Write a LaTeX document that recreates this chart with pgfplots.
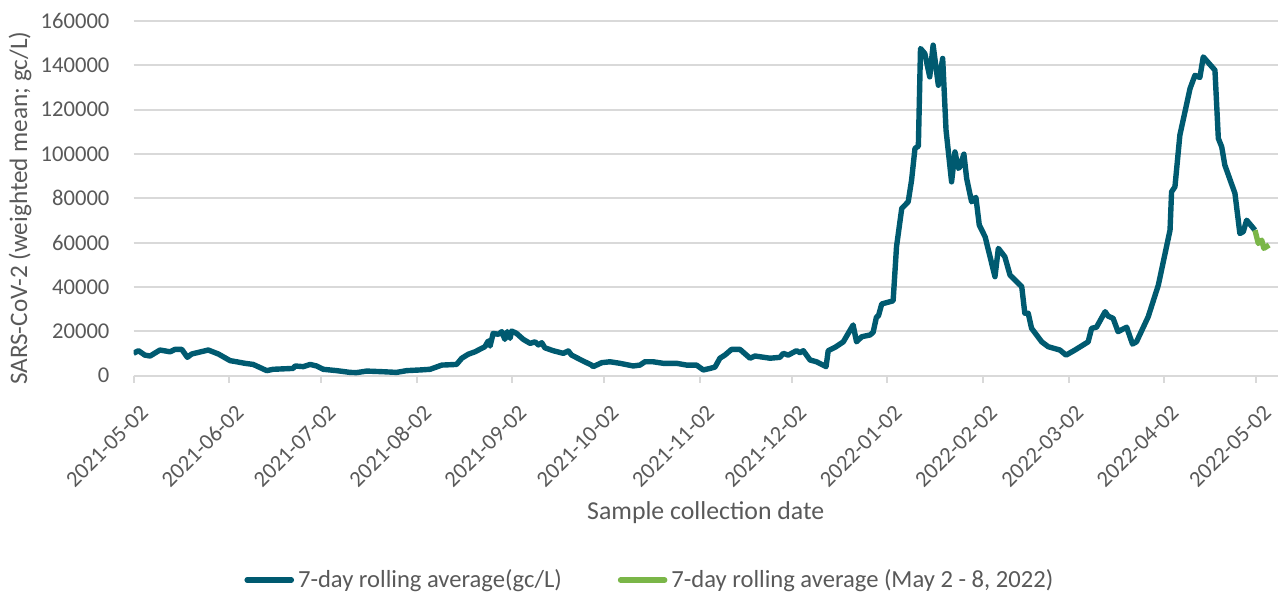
\documentclass[border=0pt]{standalone}
\usepackage{pgfplots}
\pgfplotsset{compat=1.18}
\usepackage{fontspec}
\setmainfont{Carlito}
\definecolor{dteal}{HTML}{005A70}
\definecolor{lgreen}{HTML}{7AB648}
\definecolor{txt}{HTML}{595959}
\definecolor{gridc}{HTML}{D9D9D9}
\pgfplotstableread{
day val
0 10000
1.6 11200
3.7 9200
5.4 8800
8.6 11500
11.9 10700
13.5 11800
15.7 11800
17.5 8200
18.9 9700
24.3 11500
27.6 9700
31.4 6700
33.5 6200
36.2 5500
38.9 5000
43.3 2200
45.4 2800
51.9 3200
52.5 4300
55.2 4000
57.4 5000
59.5 4300
61.7 2800
66.0 2200
70.4 1400
72.5 1300
75.8 2000
81.2 1700
85.5 1400
88.8 2200
93.1 2500
96.4 2800
100.2 4700
105.0 5000
106.7 7800
108.8 9600
111.0 10700
114.2 13000
115.3 15600
115.9 13300
116.9 19000
118.6 18600
119.7 19800
120.7 16300
121.5 19800
122.4 16800
122.9 20100
124.5 19000
126.7 16300
128.9 14500
130.5 15200
131.6 13800
132.7 14800
133.7 12500
136.4 11200
139.7 10000
141.3 11100
142.4 9200
146.2 6500
148.9 4700
149.4 4000
152.2 5800
154.9 6200
158.1 5500
162.4 4300
164.6 4700
166.2 6200
168.9 6200
172.2 5500
176.5 5500
179.8 4700
183.0 4700
185.2 2500
187.4 3200
189.0 3800
190.6 7800
192.2 9200
194.4 11800
197.1 11800
200.4 7800
202.0 8800
206.9 7800
210.1 8200
211.2 10000
212.8 9200
215.5 11200
216.6 10300
217.7 11200
219.9 7000
222.0 6200
225.1 4000
225.8 11200
228.0 12700
230.7 15200
233.9 22800
235.0 15200
236.7 17500
239.4 18300
240.4 19500
241.5 26500
242.1 26800
243.2 32300
246.9 33700
248.0 58100
249.7 75400
251.8 78400
252.9 88200
254.0 102500
255.1 103500
255.8 147600
257.2 145300
258.8 134800
259.9 149100
261.6 131000
263.0 143100
264.1 110700
265.9 87400
267.0 100900
268.1 93500
268.6 94200
269.9 99900
270.8 88900
272.4 78400
273.8 80400
274.9 67900
276.8 62600
280.0 44600
281.1 57400
283.2 53600
284.9 45300
288.7 40100
289.7 28100
290.8 28100
291.9 21300
295.2 15200
297.3 13000
301.1 11500
303.1 9200
306.0 11500
310.3 15200
311.4 21300
313.0 21800
315.8 28800
316.8 26800
318.4 25800
320.0 19800
322.8 21800
324.7 14200
326.0 15200
329.8 26500
333.1 40800
336.9 65600
337.4 82900
338.5 85200
340.1 108500
343.4 129500
345.0 135500
346.6 134500
347.7 143800
351.5 137800
352.6 107000
353.7 103200
354.7 95000
358.0 82200
359.6 64100
360.7 64900
361.8 70100
364.5 65600
}\darkdata
\pgfplotstableread{
day val
364.5 65600
365.6 59600
366.7 61100
367.4 57400
369.1 58900
}\greendata
\begin{document}
\begin{tikzpicture}
\useasboundingbox (0,0) rectangle (639pt,297.5pt);
\begin{axis}[
  at={(66.75pt,109.75pt)}, anchor=south west,
  scale only axis, width=572.25pt, height=177.25pt,
  xmin=0, xmax=372, ymin=0, ymax=160000,
  ytick={0,20000,40000,60000,80000,100000,120000,140000,160000},
  scaled y ticks=false,
  /pgf/number format/.cd, fixed, 1000 sep={}, assume math mode=true, /pgfplots/.cd,
  xtick={0,31,61,92,123,153,184,214,245,276,304,335,365},
  xticklabels={2021-05-02,2021-06-02,2021-07-02,2021-08-02,2021-09-02,2021-10-02,2021-11-02,2021-12-02,2022-01-02,2022-02-02,2022-03-02,2022-04-02,2022-05-02},
  axis x line*=bottom, axis y line*=left,
  x axis line style={draw=gridc, line width=1pt, -},
  y axis line style={draw=none},
  ymajorgrids, grid style={draw=gridc, line width=1pt},
  xtick style={draw=gridc, line width=1pt},
  ytick style={draw=none},
  tick align=outside, major tick length=3.5pt,
  yticklabel style={font=\fontsize{11.3}{13}\selectfont, text=txt, xshift=-5pt},
  xticklabel style={font=\fontsize{11.3}{13}\selectfont, text=txt, xshift=5.5pt, yshift=-13pt, rotate=45, anchor=east, inner sep=0pt},
  xlabel={Sample collection date},
  ylabel={SARS-CoV-2 (weighted mean; gc/L)},
  xlabel style={font=\fontsize{12.9}{15}\selectfont, text=txt, at={(axis description cs:0.5,-0.388)}, anchor=center},
  ylabel style={font=\fontsize{12.6}{15}\selectfont, text=txt, at={(axis description cs:-0.099,0.472)}, anchor=center},
  legend columns=2,
  legend style={at={(0.452,-0.577)}, anchor=center, draw=none, fill=none,
    font=\fontsize{12.3}{14}\selectfont, text=txt,
    /tikz/every even column/.append style={column sep=26pt}},
  legend image code/.code={\draw[#1, line width=2.8pt, line cap=round] (0pt,0pt) -- (22pt,0pt);},
]
\addplot[dteal, line width=2.7pt, line join=round] table[x=day, y=val] {\darkdata};
\addlegendentry{7-day rolling average(gc/L)}
\addplot[lgreen, line width=2.7pt, line join=round] table[x=day, y=val] {\greendata};
\addlegendentry{7-day rolling average (May 2 - 8, 2022)}
\end{axis}
\end{tikzpicture}
\end{document}
